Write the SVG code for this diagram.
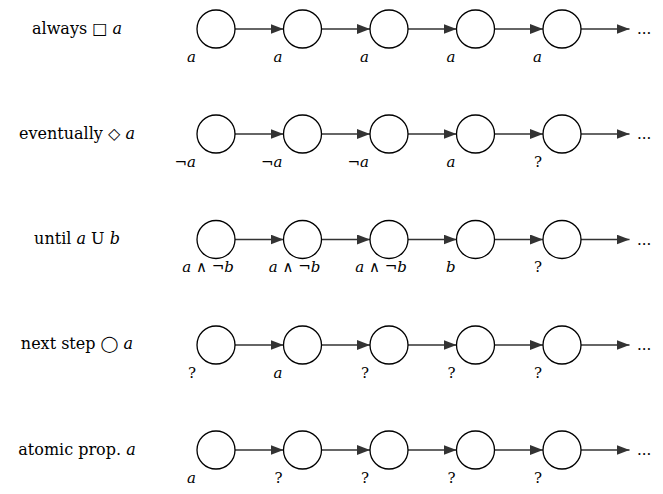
<svg xmlns="http://www.w3.org/2000/svg" width="663" height="494" viewBox="0 0 663 494">
<defs>
<style>
text{font-family:"DejaVu Serif","Liberation Serif",serif;fill:#000}
.t{font-size:16px;text-anchor:middle}
.l{font-size:15px}
.e{text-anchor:end}
.m{text-anchor:middle}
.i{font-style:italic}
.s{font-family:"DejaVu Sans",sans-serif}
circle{fill:#fff;stroke:#000;stroke-width:1.3}
.c line{stroke:#333;stroke-width:1.3;marker-end:url(#ah)}
</style>
<marker id="ah" markerUnits="userSpaceOnUse" markerWidth="13" markerHeight="10" viewBox="0 0 13 10" refX="13" refY="5" orient="auto">
<path d="M0,0 L13,5 L0,10 z" fill="#333"/>
</marker>
</defs>
<rect width="663" height="494" fill="#fff"/>

<g id="titles">
<text class="t" x="77" y="34">always □ <tspan class="i">a</tspan></text>
<text class="t" x="77" y="139">eventually ◇ <tspan class="i">a</tspan></text>
<text class="t" x="77" y="244">until <tspan class="i">a</tspan> U <tspan class="i">b</tspan></text>
<text class="t" x="77" y="349">next step ◯ <tspan class="i">a</tspan></text>
<text class="t" x="77" y="455">atomic prop. <tspan class="i">a</tspan></text>
</g>

<g class="c" id="connectors">
<line x1="235" y1="29" x2="283.5" y2="29"/><line x1="321.5" y1="29" x2="370" y2="29"/><line x1="408" y1="29" x2="456.5" y2="29"/><line x1="494.5" y1="29" x2="543" y2="29"/><line x1="581" y1="29" x2="629.5" y2="29"/>
<line x1="235" y1="134" x2="283.5" y2="134"/><line x1="321.5" y1="134" x2="370" y2="134"/><line x1="408" y1="134" x2="456.5" y2="134"/><line x1="494.5" y1="134" x2="543" y2="134"/><line x1="581" y1="134" x2="629.5" y2="134"/>
<line x1="235" y1="239.5" x2="283.5" y2="239.5"/><line x1="321.5" y1="239.5" x2="370" y2="239.5"/><line x1="408" y1="239.5" x2="456.5" y2="239.5"/><line x1="494.5" y1="239.5" x2="543" y2="239.5"/><line x1="581" y1="239.5" x2="629.5" y2="239.5"/>
<line x1="235" y1="345" x2="283.5" y2="345"/><line x1="321.5" y1="345" x2="370" y2="345"/><line x1="408" y1="345" x2="456.5" y2="345"/><line x1="494.5" y1="345" x2="543" y2="345"/><line x1="581" y1="345" x2="629.5" y2="345"/>
<line x1="235" y1="450" x2="283.5" y2="450"/><line x1="321.5" y1="450" x2="370" y2="450"/><line x1="408" y1="450" x2="456.5" y2="450"/><line x1="494.5" y1="450" x2="543" y2="450"/><line x1="581" y1="450" x2="629.5" y2="450"/>
</g>

<g id="ellipses">
<text class="l" x="637" y="34">...</text>
<text class="l" x="637" y="139">...</text>
<text class="l" x="637" y="244.5">...</text>
<text class="l" x="637" y="350">...</text>
<text class="l" x="637" y="455">...</text>
</g>

<!-- row 1: always -->
<g id="r1n1"><circle cx="216" cy="29" r="19"/><text class="l e i" x="196" y="62">a</text></g>
<g id="r1n2"><circle cx="302.5" cy="29" r="19"/><text class="l e i" x="282.5" y="62">a</text></g>
<g id="r1n3"><circle cx="389" cy="29" r="19"/><text class="l e i" x="369" y="62">a</text></g>
<g id="r1n4"><circle cx="475.5" cy="29" r="19"/><text class="l e i" x="455.5" y="62">a</text></g>
<g id="r1n5"><circle cx="562" cy="29" r="19"/><text class="l e i" x="542" y="62">a</text></g>

<!-- row 2: eventually -->
<g id="r2n1"><circle cx="216" cy="134" r="19"/><text class="l e" x="196" y="167">¬<tspan class="i">a</tspan></text></g>
<g id="r2n2"><circle cx="302.5" cy="134" r="19"/><text class="l e" x="282.5" y="167">¬<tspan class="i">a</tspan></text></g>
<g id="r2n3"><circle cx="389" cy="134" r="19"/><text class="l e" x="369" y="167">¬<tspan class="i">a</tspan></text></g>
<g id="r2n4"><circle cx="475.5" cy="134" r="19"/><text class="l e i" x="455.5" y="167">a</text></g>
<g id="r2n5"><circle cx="562" cy="134" r="19"/><text class="l e" x="542" y="167">?</text></g>

<!-- row 3: until -->
<g id="r3n1"><circle cx="216" cy="239.5" r="19"/><text class="l m" x="208" y="272"><tspan class="i">a</tspan> <tspan class="s">∧ ¬</tspan><tspan class="i">b</tspan></text></g>
<g id="r3n2"><circle cx="302.5" cy="239.5" r="19"/><text class="l m" x="294.5" y="272"><tspan class="i">a</tspan> <tspan class="s">∧ ¬</tspan><tspan class="i">b</tspan></text></g>
<g id="r3n3"><circle cx="389" cy="239.5" r="19"/><text class="l m" x="381" y="272"><tspan class="i">a</tspan> <tspan class="s">∧ ¬</tspan><tspan class="i">b</tspan></text></g>
<g id="r3n4"><circle cx="475.5" cy="239.5" r="19"/><text class="l e i" x="455.5" y="272">b</text></g>
<g id="r3n5"><circle cx="562" cy="239.5" r="19"/><text class="l e" x="542" y="272">?</text></g>

<!-- row 4: next -->
<g id="r4n1"><circle cx="216" cy="345" r="19"/><text class="l e" x="196" y="378">?</text></g>
<g id="r4n2"><circle cx="302.5" cy="345" r="19"/><text class="l e i" x="282.5" y="378">a</text></g>
<g id="r4n3"><circle cx="389" cy="345" r="19"/><text class="l e" x="369" y="378">?</text></g>
<g id="r4n4"><circle cx="475.5" cy="345" r="19"/><text class="l e" x="455.5" y="378">?</text></g>
<g id="r4n5"><circle cx="562" cy="345" r="19"/><text class="l e" x="542" y="378">?</text></g>

<!-- row 5: atomic -->
<g id="r5n1"><circle cx="216" cy="450" r="19"/><text class="l e i" x="196" y="483">a</text></g>
<g id="r5n2"><circle cx="302.5" cy="450" r="19"/><text class="l e" x="282.5" y="483">?</text></g>
<g id="r5n3"><circle cx="389" cy="450" r="19"/><text class="l e" x="369" y="483">?</text></g>
<g id="r5n4"><circle cx="475.5" cy="450" r="19"/><text class="l e" x="455.5" y="483">?</text></g>
<g id="r5n5"><circle cx="562" cy="450" r="19"/><text class="l e" x="542" y="483">?</text></g>
</svg>
